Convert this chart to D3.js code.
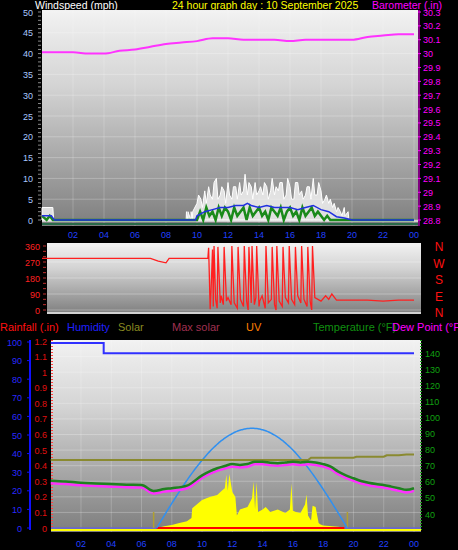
<!DOCTYPE html><html><head><script src="https://cdn.jsdelivr.net/npm/d3@7"></script>
<style>body{margin:0;background:#000}svg{display:block;font-family:"Liberation Sans",Arial,sans-serif}</style></head><body><svg id="c" width="458" height="550"></svg>
<script>
const hourTicks=[2,4,6,8,10,12,14,16,18,20,22,24];
const windTicks=[0,5,10,15,20,25,30,35,40,45,50];
const baroTicks=[28.8,28.9,29,29.1,29.2,29.3,29.4,29.5,29.6,29.7,29.8,29.9,30,30.1,30.2,30.3];
const baroT=[0,1,2,3,4,5,6,7,8,9,10,11,12,13,14,15,16,17,18,19,20,21,22,23,24];
const baroV=[30.01,30.01,30.01,30.0,30.0,30.02,30.03,30.05,30.07,30.08,30.09,30.11,30.11,30.1,30.1,30.1,30.09,30.1,30.1,30.1,30.1,30.12,30.13,30.14,30.14];
const gustT=[0,0.7,0.75,9.3,9.32,9.4,9.42,9.6,9.62,9.7,9.72,10,10.1,10.25,10.35,10.5,10.6,10.75,10.85,11,11.1,11.25,11.35,11.5,11.6,11.75,11.85,12,12.1,12.25,12.35,12.5,12.6,12.75,12.85,13,13.1,13.25,13.35,13.5,13.6,13.75,13.85,14,14.1,14.25,14.35,14.5,14.6,14.75,14.85,15,15.1,15.25,15.35,15.5,15.6,15.75,15.85,16,16.1,16.25,16.35,16.5,16.6,16.75,16.85,17,17.1,17.25,17.35,17.5,17.6,17.75,17.85,18,18.1,18.25,18.35,18.5,18.6,18.75,18.85,19,19.1,19.25,19.35,19.5,19.55,19.75,19.8,24];
const gustV=[3,3,0,0,2,0,2,0,2,0,2,4,6,5,3,7,4,8,6,5,9,10,5,6,8,7,4,9,6,5,8,8,5,9,6,7,11,6,9,8,5,9,6,7,8,6,9,8,5,7,10,6,8,7,9,9,5,6,10,8,5,5,9,9,6,7,5,6,8,8,5,10,6,6,9,7,4,5,6,4,5,3,4,2,3,2,1,3,1,2,0,0];
const avgT=[0,0.6,0.8,9.9,10,10.5,11,11.5,12,12.5,13,13.25,13.5,14,14.5,15,15.5,16,16.5,17,17.5,18,18.5,19,19.5,20,24];
const avgV=[1,1,0,0,1,2,2.5,3,3,3.5,3.5,4,3.5,3,3.5,3,3,3,2.5,3,3.5,2.5,2,0.8,0.5,0,0];
const meanT=[0,0.3,0.5,0.7,0.8,9.9,10,10.2,10.4,10.6,10.8,11,11.2,11.4,11.6,11.8,12,12.2,12.4,12.6,12.8,13,13.2,13.4,13.6,13.8,14,14.2,14.4,14.6,14.8,15,15.2,15.4,15.6,15.8,16,16.2,16.4,16.6,16.8,17,17.2,17.4,17.6,17.8,18,18.2,18.4,18.6,24];
const meanV=[1,0,1,0,0,0,0,2,0,3,1,2,0,3,1,3,2,0,3,1,2,3,0,3,1,2,3,1,2,0,3,2,1,3,0,2,3,1,2,0,3,1,2,3,1,2,1,0,1,0,0];
const dirTicks=[0,90,180,270,360];
const dirT=[0,7,7.5,8,8.2,10.7,10.75,10.85,10.9,11.0,11.05,11.1,11.2,11.3,11.35,11.5,11.55,11.7,11.75,11.9,12.0,12.2,12.25,12.4,12.6,12.65,12.8,13.0,13.05,13.2,13.3,13.35,13.5,13.55,13.7,13.8,13.85,14.0,14.05,14.2,14.4,14.45,14.6,14.8,14.85,15.0,15.1,15.15,15.3,15.5,15.55,15.7,15.9,15.95,16.1,16.3,16.35,16.5,16.7,16.75,16.9,17.1,17.15,17.3,17.4,17.45,17.6,18.0,18.3,18.5,18.7,19,21,22,23,24];
const dirV=[290,290,275,265,290,290,350,5,90,340,20,360,60,10,355,40,80,30,355,50,70,30,360,40,10,355,60,20,360,50,0,355,40,360,30,70,360,20,50,80,10,360,40,60,355,30,0,360,50,20,355,70,40,360,60,30,355,80,40,360,60,20,355,50,0,360,70,50,80,60,90,55,55,50,55,55];
const humT=[0,3.5,3.5,24];
const humV=[99.5,99.5,94,94];
const indoorT=[0,17,17.2,20,20.2,22,22.2,23,23.5,24];
const indoorV=[73.5,73.5,75,75,75.6,75.6,76.5,76.5,77,77];
const tempT=[0,1,2,3,4,5,6,6.8,7.5,8,9,10,10.5,11,11.5,12,12.5,13,13.5,14,14.5,15,15.5,16,16.5,17,17.5,18,18.5,19,19.5,20,20.5,21,21.5,22,22.5,23,23.5,24];
const tempV=[60.7,60.2,59.4,59,58.6,58.2,58,54.3,55.5,56,57.6,64,66.5,68.4,69.8,71,70.5,71,72.5,72.5,71.8,71.5,72,72.5,72,72.5,72,71,69.4,66.3,64,62.2,60.5,59.4,58.6,58,57,56,55,56];
const dewOff=1.6;
const solarT=[7,7.5,8,8.5,9,9.3,9.35,10,10.5,11,11.3,11.5,11.6,11.7,11.8,12,12.2,12.3,12.5,13,13.3,13.4,13.5,13.6,13.7,14,14.2,14.5,15,15.5,15.8,15.9,16,16.2,16.5,16.8,16.9,17,17.2,17.3,17.5,17.7,17.8,18,19,19.5];
const solarV=[0,15,25,40,55,80,160,226,250,266,300,320,430,300,435,290,250,100,150,170,240,375,150,370,130,150,170,130,150,120,150,360,140,130,120,190,270,100,60,180,170,40,30,20,10,0];
const maxSolarT=d3.range(7,19.61,0.1);
const rainTicks=[0,0.1,0.2,0.3,0.4,0.5,0.6,0.7,0.8,0.9,1,1.1,1.2];
const humTicks=[0,10,20,30,40,50,60,70,80,90,100];
const tempTicks=[40,50,60,70,80,90,100,110,120,130,140];

const svg=d3.select("#c");
const defs=svg.append("defs");
const g=defs.append("linearGradient").attr("id","bg").attr("x1",0).attr("y1",0).attr("x2",0).attr("y2",1);
g.append("stop").attr("offset","0").attr("stop-color","#f2f2f2");
g.append("stop").attr("offset","0.35").attr("stop-color","#d4d4d4");
g.append("stop").attr("offset","1").attr("stop-color","#7e7e7e");
function txt(x,y,s,c,anchor="start",size=10.5){svg.append("text").attr("x",x).attr("y",y).attr("fill",c).attr("font-size",size).attr("text-anchor",anchor).text(s);}
function ticksLeft(x,scale,vals,color,fmt,dx=3){
  vals.forEach(v=>{const y=scale(v);svg.append("text").attr("x",x-dx).attr("y",y+3.5).attr("fill",color).attr("font-size",9).attr("text-anchor","end").text(fmt(v));});
}
// Panel 1
txt(35,9,"Windspeed (mph)","#fff");
txt(172,9,"24 hour graph day : 10 September 2025","#ffff00");
txt(372,9,"Barometer (.in)","#ff00ff");
const x1=d3.scaleLinear().domain([0,24]).range([42,414]);
const yw=d3.scaleLinear().domain([0,50]).range([220,12]);
const yb=d3.scaleLinear().domain([28.8,30.3]).range([220,12]);
svg.append("rect").attr("x",42).attr("y",10).attr("width",376).attr("height",216).attr("fill","url(#bg)");
windTicks.forEach(v=>{svg.append("line").attr("x1",42).attr("x2",418).attr("y1",yw(v)).attr("y2",yw(v)).attr("stroke","#fff").attr("stroke-opacity",0.25);});
hourTicks.forEach(h=>{svg.append("line").attr("x1",x1(h)).attr("x2",x1(h)).attr("y1",10).attr("y2",226).attr("stroke","#fff").attr("stroke-opacity",0.2);});
svg.append("line").attr("x1",42).attr("x2",418).attr("y1",224).attr("y2",224).attr("stroke","#2a6a4a").attr("stroke-width",2);
svg.append("line").attr("x1",42).attr("x2",418).attr("y1",221).attr("y2",221).attr("stroke","#e8e8e8").attr("stroke-width",1.5);
ticksLeft(33,yw,windTicks,"#a8c8ff",d=>d,0);
d3.range(0,51,1).forEach(v=>svg.append("line").attr("x1",38).attr("x2",41).attr("y1",yw(v)).attr("y2",yw(v)).attr("stroke","#888"));
baroTicks.forEach(v=>{svg.append("text").attr("x",423).attr("y",yb(v)+3.5).attr("fill","#ff00ff").attr("font-size",9).text(+v.toFixed(1));svg.append("line").attr("x1",418).attr("x2",421).attr("y1",yb(v)).attr("y2",yb(v)).attr("stroke","#ff00ff");});
svg.append("line").attr("x1",419).attr("x2",419).attr("y1",10).attr("y2",226).attr("stroke","#ff00ff");
hourTicks.forEach(h=>txt(x1(h),238,d3.format("02")(h%24),"#2040ff","middle",9));
const gustArea=d3.area().x((d,i)=>x1(gustT[i])).y0(yw(0)).y1(d=>yw(d));
svg.append("path").attr("d",gustArea(gustV)).attr("fill","#f6f6f6").attr("fill-opacity",0.8).attr("stroke","#fff").attr("stroke-width",1);
svg.append("path").attr("d",d3.line().x((d,i)=>x1(meanT[i])).y(d=>yw(d))(meanV)).attr("fill","none").attr("stroke","#1a8a1a").attr("stroke-width",2.5);
svg.append("path").attr("d",d3.line().x((d,i)=>x1(avgT[i])).y(d=>yw(d))(avgV)).attr("fill","none").attr("stroke","#2030e0").attr("stroke-width",1.5);
svg.append("path").attr("d",d3.line().x((d,i)=>x1(baroT[i])).y(d=>yb(d)).curve(d3.curveMonotoneX)(baroV)).attr("fill","none").attr("stroke","#ff33ff").attr("stroke-width",2);
// Panel 2
const x2=d3.scaleLinear().domain([0,24]).range([42,414]);
const yd=d3.scaleLinear().domain([0,360]).range([310,246]);
svg.append("rect").attr("x",47).attr("y",243).attr("width",374).attr("height",71).attr("fill","url(#bg)");
dirTicks.forEach(v=>{svg.append("line").attr("x1",47).attr("x2",421).attr("y1",yd(v)).attr("y2",yd(v)).attr("stroke","#fff").attr("stroke-opacity",0.3);});
ticksLeft(40,yd,dirTicks,"#ff2020",d=>d,0);
d3.range(0,361,30).forEach(v=>svg.append("line").attr("x1",43).attr("x2",46).attr("y1",yd(v)).attr("y2",yd(v)).attr("stroke","#c03030"));
svg.append("line").attr("x1",47).attr("x2",421).attr("y1",313).attr("y2",313).attr("stroke","#eee").attr("stroke-width",1.5);
svg.append("path").attr("d",d3.line().x((d,i)=>x2(dirT[i])).y(d=>yd(d))(dirV)).attr("fill","none").attr("stroke","#ff2020").attr("stroke-width",1.3);
["N","W","S","E","N"].forEach((s,i)=>txt(439,251+i*16.5,s,"#ff1010","middle",12));
// legend
[["Rainfall (.in)",0,"#ff1010"],["Humidity",67,"#2020ff"],["Solar",118,"#8a8a20"],["Max solar",172,"#a03050"],["UV",246,"#ff8000"],["Temperature (°F)",313,"#109010"],["Dew Point (°F",392,"#ff00ff"]].forEach(d=>txt(d[1],331,d[0],d[2],"start",11));
// Panel 3
const x3=d3.scaleLinear().domain([0,24]).range([50.7,414]);
const yh=d3.scaleLinear().domain([0,100]).range([528,342]);
const yr=d3.scaleLinear().domain([0,1.2]).range([528,341]);
const yt=d3.scaleLinear().domain([40,140]).range([514,353]);
const ys=d3.scaleLinear().domain([0,1500]).range([528,342]);
svg.append("rect").attr("x",51).attr("y",340).attr("width",370).attr("height",192).attr("fill","url(#bg)");
rainTicks.forEach(v=>{svg.append("line").attr("x1",51).attr("x2",421).attr("y1",yr(v)).attr("y2",yr(v)).attr("stroke","#fff").attr("stroke-opacity",0.25);});
hourTicks.forEach(h=>{svg.append("line").attr("x1",x3(h)).attr("x2",x3(h)).attr("y1",340).attr("y2",532).attr("stroke","#fff").attr("stroke-opacity",0.2);});
svg.append("line").attr("x1",30).attr("x2",30).attr("y1",340).attr("y2",530).attr("stroke","#1010ff").attr("stroke-width",2);
humTicks.forEach(v=>{svg.append("text").attr("x",22).attr("y",yh(v)+3.5).attr("fill","#2a2aff").attr("font-size",9).attr("text-anchor","end").text(v);svg.append("line").attr("x1",27).attr("x2",31).attr("y1",yh(v)).attr("y2",yh(v)).attr("stroke","#1010ff");});
svg.append("line").attr("x1",52).attr("x2",52).attr("y1",340).attr("y2",532).attr("stroke","#ff4040").attr("stroke-dasharray","1,2").attr("stroke-width",2);
rainTicks.forEach(v=>{svg.append("text").attr("x",47).attr("y",yr(v)+3.5).attr("fill","#e01010").attr("font-size",9).attr("text-anchor","end").text(v===0?"0":(v>=1?+v.toFixed(1):d3.format(".1f")(v)));});
svg.append("line").attr("x1",421).attr("x2",421).attr("y1",340).attr("y2",532).attr("stroke","#20a020").attr("stroke-dasharray","1,2").attr("stroke-width",2);
tempTicks.forEach(v=>{svg.append("text").attr("x",425).attr("y",yt(v)+3.5).attr("fill","#10a010").attr("font-size",9).text(v);});
hourTicks.forEach(h=>txt(x3(h),547,d3.format("02")(h%24),"#2040ff","middle",9));
svg.append("line").attr("x1",51).attr("x2",421).attr("y1",530).attr("y2",530).attr("stroke","#ffff00").attr("stroke-width",2);
svg.append("path").attr("d",d3.area().x((d,i)=>x3(solarT[i])).y0(ys(0)).y1(d=>ys(d))(solarV)).attr("fill","#ffff00");
svg.append("line").attr("x1",51).attr("x2",421).attr("y1",yr(0)).attr("y2",yr(0)).attr("stroke","#6060d0").attr("stroke-width",1.5);
svg.append("line").attr("x1",x3(7)).attr("x2",x3(19.4)).attr("y1",yr(0)).attr("y2",yr(0)).attr("stroke","#ff0000").attr("stroke-width",2);
[6.8,19.6].forEach(h=>svg.append("line").attr("x1",x3(h)).attr("x2",x3(h)).attr("y1",512).attr("y2",528).attr("stroke","#b0a030").attr("stroke-width",1.5));
svg.append("path").attr("d",d3.line().x(d=>x3(d)).y(d=>ys(Math.max(0,804*Math.sin(Math.PI*(d-7)/12.6)))).curve(d3.curveBasis)(maxSolarT)).attr("fill","none").attr("stroke","#3090f0").attr("stroke-width",1.5);
svg.append("path").attr("d",d3.line().x((d,i)=>x3(indoorT[i])).y(d=>yt(d))(indoorV)).attr("fill","none").attr("stroke","#8a8a30").attr("stroke-width",2);
svg.append("path").attr("d",d3.line().x((d,i)=>x3(tempT[i])).y(d=>yt(d-dewOff)).curve(d3.curveMonotoneX)(tempV)).attr("fill","none").attr("stroke","#ff30ff").attr("stroke-width",2.5);
svg.append("path").attr("d",d3.line().x((d,i)=>x3(tempT[i])).y(d=>yt(d)).curve(d3.curveMonotoneX)(tempV)).attr("fill","none").attr("stroke","#208020").attr("stroke-width",2.5);
svg.append("path").attr("d",d3.line().x((d,i)=>x3(humT[i])).y(d=>yh(d))(humV)).attr("fill","none").attr("stroke","#3030ff").attr("stroke-width",2);
</script></body></html>
